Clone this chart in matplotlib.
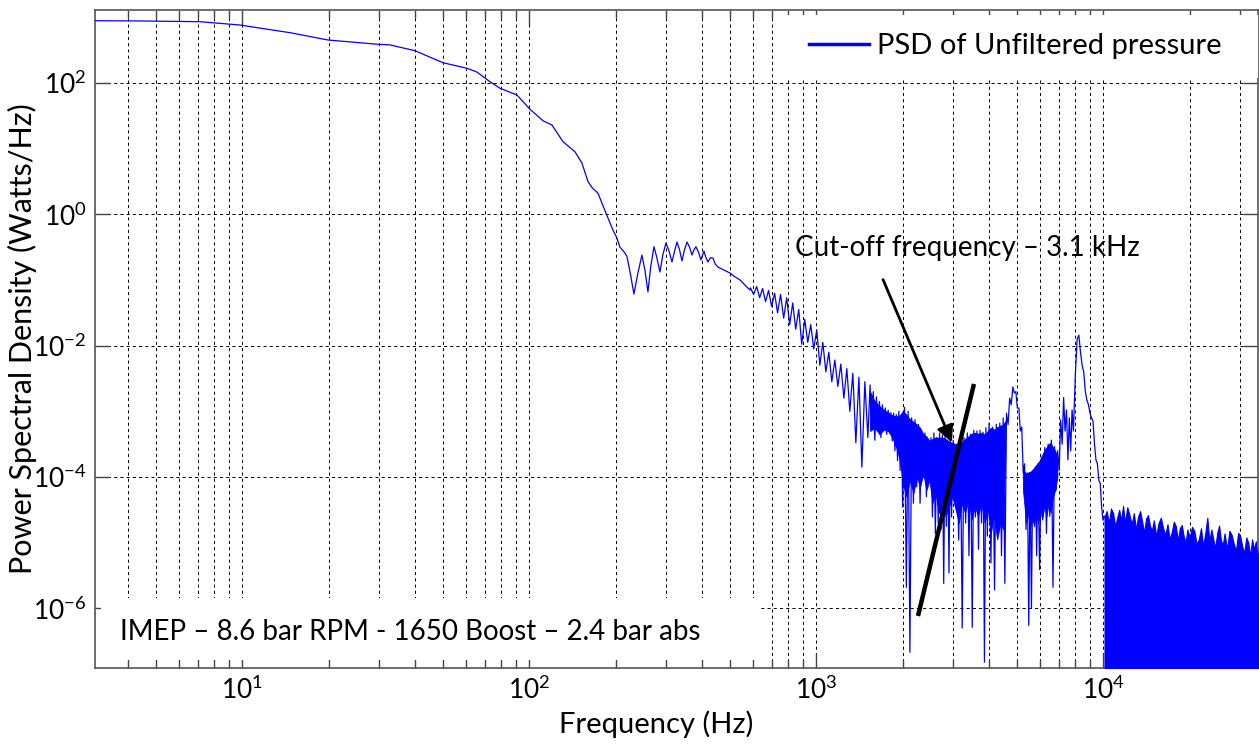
import numpy as np
import matplotlib.pyplot as plt
from matplotlib.lines import Line2D
from matplotlib.patches import Rectangle
from matplotlib.ticker import FixedLocator, LogLocator, NullLocator, NullFormatter

plt.rcParams['font.family'] = ['Lato', 'DejaVu Sans']
plt.rcParams['axes.unicode_minus'] = False

# --- data (frequency in Hz, PSD as log10 of Watts/Hz) ---
smooth_f = [3.07, 4.4, 7.1, 9.8, 14.7, 19.9, 29.7, 32.7, 40.0, 50.0, 60.7, 65.7,
            73.0, 79.1, 90.6, 100.6, 111.6, 120.0, 131.1, 144.3, 152.6, 160.2,
            166.0, 173.5, 185.0, 195.7, 202.1, 207.0, 213.0, 219.0, 225.0, 231.6,
            239.0, 247.0, 253.0, 259.2, 265.0, 272.0, 278.0, 285.4, 292.0, 299.5,
            307.0, 314.3, 321.0, 327.2, 334.0, 340.5, 347.0, 354.5, 362.0, 368.9,
            375.0, 380.9, 389.0, 396.5, 406.2, 412.0, 419.4, 428.0, 436.6, 445.0,
            454.5, 477.0, 500.5, 520.0, 542.3, 565.0, 587.5]
smooth_v = [2.948, 2.944, 2.933, 2.883, 2.765, 2.654, 2.589, 2.580, 2.491, 2.309,
            2.223, 2.167, 2.019, 1.919, 1.817, 1.600, 1.425, 1.360, 1.106, 0.953,
            0.781, 0.500, 0.400, 0.324, 0.020, -0.239, -0.361, -0.500, -0.560,
            -0.640, -0.900, -1.214, -0.900, -0.620, -0.850, -1.183, -0.800, -0.493,
            -0.650, -0.879, -0.620, -0.437, -0.560, -0.726, -0.560, -0.422, -0.540,
            -0.711, -0.550, -0.422, -0.500, -0.620, -0.540, -0.493, -0.580, -0.696,
            -0.559, -0.650, -0.726, -0.660, -0.666, -0.760, -0.803, -0.850, -0.894,
            -0.950, -1.000, -1.080, -1.153]

comb_f = [590, 605, 620, 635, 650, 666, 682, 699, 716, 733, 751, 770, 789, 808,
          828, 848, 869, 890, 912, 934, 957, 980, 1004, 1029, 1054, 1080, 1106,
          1133, 1161, 1189, 1218, 1248, 1278, 1309, 1341, 1374, 1408, 1442, 1477,
          1513]
comb_v = [-1.12, -1.22, -1.10, -1.27, -1.13, -1.33, -1.16, -1.40, -1.20, -1.50,
          -1.22, -1.58, -1.27, -1.68, -1.35, -1.75, -1.45, -1.98, -1.60, -1.95,
          -1.68, -2.05, -1.76, -2.30, -1.95, -2.40, -2.10, -2.55, -2.22, -2.62,
          -2.28, -2.80, -2.35, -3.00, -2.42, -3.48, -2.48, -3.85, -2.55, -3.40]

dense_f = [1540, 1560, 1580, 1600, 1620, 1640, 1660, 1680, 1700, 1720, 1740, 1760,
           1780, 1800, 1820, 1840, 1860, 1880, 1900, 1920, 1940, 1960, 1980,
           2000, 2030, 2060, 2090, 2120, 2150, 2180, 2210, 2240, 2270, 2300, 2330,
           2360, 2390, 2420, 2450, 2480, 2510, 2540, 2570, 2600, 2630, 2660, 2690,
           2720, 2750, 2780, 2810, 2840, 2870, 2900, 2930, 2960,
           3000, 3045, 3090, 3135, 3180, 3225, 3270, 3315, 3360, 3405, 3450, 3495,
           3540, 3585, 3630, 3675, 3720, 3765, 3810, 3855, 3900, 3945,
           4000, 4060, 4120, 4180, 4240, 4300, 4360, 4420, 4480, 4540, 4600, 4660,
           4720, 4780, 4840, 4900, 4960, 5020, 5080, 5140, 5200, 5260, 5320, 5380,
           5440, 5500, 5560, 5620, 5680, 5740, 5800, 5860, 5920,
           6000, 6085, 6170, 6255, 6340, 6425, 6510, 6595, 6680, 6765, 6850, 6935,
           7020, 7105, 7190, 7275, 7360, 7445, 7530, 7615, 7700, 7785, 7870,
           8000, 8110, 8220, 8330, 8440, 8550, 8660, 8770, 8880, 8990, 9100, 9210,
           9320, 9430, 9540, 9650, 9760, 9870, 9980]
dense_v = [-2.60, -3.20, -2.70, -3.44, -2.78, -3.10, -2.85, -3.40, -2.90, -3.25,
           -2.95, -3.35, -2.98, -3.29, -3.02, -3.45, -3.03, -3.60, -3.05, -3.75,
           -3.00, -3.90, -3.05,
           -4.46, -2.94, -5.68, -3.00, -6.67, -3.10, -4.40, -3.13, -4.15, -3.20,
           -4.40, -3.30, -3.95, -3.33, -4.30, -3.45, -4.05, -3.40, -4.61, -3.33,
           -4.86, -3.40, -4.70, -3.33, -4.80, -3.36, -5.62, -3.38, -4.75, -3.44,
           -5.46, -3.40, -4.61,
           -3.44, -4.40, -3.50, -4.96, -3.44, -6.30, -3.40, -4.70, -3.33, -5.20,
           -3.35, -6.29, -3.29, -4.61, -3.30, -5.10, -3.29, -4.70, -3.32, -6.82,
           -3.25, -4.90,
           -3.18, -5.31, -3.24, -5.72, -3.20, -4.80, -3.18, -5.20, -3.10, -5.62,
           -3.03, -3.20, -2.80, -2.90, -2.63, -2.72, -2.70, -2.95, -2.95, -3.30,
           -3.24, -3.94, -3.80, -4.80, -3.94, -6.26, -3.94, -6.00, -3.90, -4.70,
           -3.85, -5.20, -3.80,
           -5.41, -3.70, -4.60, -3.55, -4.86, -3.50, -4.60, -3.44, -5.68, -3.54,
           -4.20, -3.60, -3.90, -3.13, -3.50, -2.79, -3.30, -2.98, -3.74, -3.10,
           -3.60, -2.98, -3.30,
           -2.40, -1.90, -1.84, -2.10, -2.30, -2.40, -2.70, -2.83, -2.90, -3.03,
           -3.10, -3.15, -3.50, -3.74, -3.80, -4.05, -4.10, -4.46, -4.66]

# solid core of the noisy band
band_f = [1540, 1600, 1660, 1720, 1780, 1840, 1900, 1960, 2000, 2060, 2120, 2180,
          2240, 2300, 2360, 2420, 2480, 2540, 2600, 2680, 2750, 2820, 2900, 2980,
          3060, 3140, 3220, 3300, 3390, 3480, 3570, 3660, 3760, 3860, 3960, 4060,
          4160, 4270, 4380, 4480, 4560]
band_hi = [-2.70, -2.85, -2.92, -2.98, -3.02, -3.06, -3.08, -3.06, -3.00, -3.05,
           -3.12, -3.16, -3.20, -3.25, -3.35, -3.38, -3.45, -3.42, -3.40, -3.40,
           -3.40, -3.42, -3.46, -3.48, -3.50, -3.48, -3.46, -3.42, -3.38, -3.34,
           -3.33, -3.34, -3.33, -3.35, -3.30, -3.25, -3.28, -3.24, -3.22, -3.20,
           -3.15]
band_lo = [-3.30, -3.25, -3.35, -3.28, -3.30, -3.40, -3.55, -3.75, -4.10, -4.30,
           -4.05, -4.25, -4.00, -4.15, -3.95, -4.20, -4.05, -4.40, -4.25, -4.55,
           -4.35, -4.60, -4.45, -4.30, -4.50, -4.70, -4.40, -4.55, -4.35, -4.65,
           -4.45, -4.60, -4.40, -4.70, -4.50, -4.85, -4.60, -4.95, -4.70, -4.80,
           -3.60]

band2_f = [5250, 5320, 5400, 5480, 5560, 5650, 5740, 5830, 5930, 6030, 6130, 6230,
           6340, 6450, 6560, 6680, 6800, 6920]
band2_hi = [-3.90, -3.92, -3.95, -3.93, -3.92, -3.90, -3.86, -3.82, -3.78, -3.74,
            -3.66, -3.60, -3.55, -3.50, -3.48, -3.55, -3.60, -3.70]
band2_lo = [-4.20, -4.45, -4.70, -4.55, -4.80, -4.60, -4.75, -4.55, -4.70, -4.50,
            -4.65, -4.45, -4.60, -4.40, -4.55, -4.30, -4.20, -4.00]

floor_f = [10100, 10280, 10460, 10640, 10820, 11000, 11180, 11360, 11540, 11720,
           11900, 12120, 12340, 12560, 12780, 13000, 13220, 13440, 13660, 13880,
           14100, 14320, 14540, 14760, 15000, 15290, 15580, 15870, 16160, 16450,
           16740, 17030, 17320, 17610, 17900, 18190, 18480, 18770, 19060, 19350,
           19640, 20000, 20380, 20760, 21140, 21520, 21900, 22280, 22660, 23040,
           23420, 23800, 24180, 24560, 24940, 25320, 25700, 26080, 26460, 27000,
           27500, 28000, 28500, 29000, 29500, 30000, 30500, 31000, 31500, 32000,
           32500, 33000, 33500, 34000, 34500, 35000]
floor_top = [-4.60, -4.52, -4.70, -4.48, -4.55, -4.75, -4.62, -4.50, -4.66, -4.44,
             -4.70, -4.46, -4.58, -4.72, -4.55, -4.80, -4.60, -4.52, -4.68, -4.85,
             -4.63, -4.58, -4.74, -4.82, -4.66, -4.90, -4.70, -4.62, -4.78, -4.88,
             -4.72, -4.95, -4.84, -4.68, -4.75, -4.97, -4.78, -4.73, -4.90, -5.00,
             -4.80, -4.92, -4.76, -4.82, -5.02, -4.95, -4.78, -5.05, -4.86, -4.62,
             -4.98, -4.80, -4.95, -5.08, -4.85, -4.74, -4.96, -5.04, -4.86, -5.10,
             -4.82, -4.88, -5.02, -5.12, -4.85, -4.90, -5.06, -5.15, -4.92, -5.00,
             -5.20, -4.95, -5.10, -4.98, -5.25, -5.05]
floor_bottom = -7.5

# annotation geometry (data units)
arrow_start = (1694, 10 ** -0.955)
arrow_tip = (2995, 10 ** -3.513)
cut_line_f = [2262, 3544]
cut_line_v = [-6.117, -2.584]

blue = '#0000ff'
p = lambda v: 10 ** np.asarray(v, dtype=float)

fig = plt.figure(figsize=(12.59, 7.47), dpi=100)
ax = fig.add_axes([95 / 1259, 1 - 668 / 747, 1163 / 1259, 658 / 747])

trace_f = smooth_f + comb_f + dense_f + floor_f[:1]
trace_v = smooth_v + comb_v + dense_v + floor_top[:1]
ax.plot(trace_f, p(trace_v), color=blue, lw=0.9, zorder=4)
ax.fill_between(band_f, p(band_lo), p(band_hi), color=blue, lw=0.6, zorder=4)
ax.fill_between(band2_f, p(band2_lo), p(band2_hi), color=blue, lw=0.6, zorder=4)
ax.fill_between(floor_f, p([floor_bottom] * len(floor_f)), p(floor_top),
                color=blue, lw=0.8, zorder=4)

ax.set_xscale('log')
ax.set_yscale('log')
ax.set_xlim(3.07, 34600)
ax.set_ylim(10 ** -6.909, 10 ** 3.111)

ax.yaxis.set_major_locator(FixedLocator([1e-6, 1e-4, 1e-2, 1e0, 1e2]))
ax.yaxis.set_minor_locator(NullLocator())
ax.xaxis.set_major_locator(FixedLocator([1e1, 1e2, 1e3, 1e4]))
ax.xaxis.set_minor_locator(LogLocator(base=10, subs=range(2, 10), numticks=20))
ax.xaxis.set_minor_formatter(NullFormatter())

grid_kw = dict(color='black', lw=0.7, linestyle=(0, (3.2, 3.2)))
ax.grid(True, which='both', axis='x', **grid_kw)
ax.grid(True, which='major', axis='y', **grid_kw)

ax.tick_params(which='both', direction='in', top=True, right=True,
               width=1, color='#444444', labelsize=19, pad=6)
ax.tick_params(which='major', length=10.8)
ax.tick_params(which='minor', length=5.8)
for s in ax.spines.values():
    s.set_color('#555555')
    s.set_linewidth(1.2)

ax.set_xlabel('Frequency (Hz)', fontsize=21)
ax.xaxis.set_label_coords((656 - 95) / 1163, -0.064)
ax.set_ylabel('Power Spectral Density (Watts/Hz)', fontsize=22, labelpad=-3)

# white boxes behind legend and condition text
ax.add_patch(Rectangle((0.005, 0.012), 0.567, 0.094, transform=ax.transAxes,
                       facecolor='white', edgecolor='none', zorder=3))
ax.add_patch(Rectangle((0.59, 0.897), 0.41, 0.096, transform=ax.transAxes,
                       facecolor='white', edgecolor='none', zorder=3))
ax.text(0.0215, 0.0547, 'IMEP – 8.6 bar RPM - 1650 Boost – 2.4 bar abs',
        transform=ax.transAxes, fontsize=20, va='center', ha='left', zorder=5)

ax.text(843, 10 ** -0.513, 'Cut-off frequency – 3.1 kHz', fontsize=20,
        va='center', ha='left', zorder=5)
ax.annotate('', xy=arrow_tip, xytext=arrow_start,
            arrowprops=dict(arrowstyle='-|>', color='black', lw=2,
                            mutation_scale=25), zorder=6)
ax.plot(cut_line_f, p(cut_line_v), color='black', lw=3.2, solid_capstyle='butt',
        zorder=6)

handle = Line2D([], [], color=blue, lw=2.5)
leg = ax.legend([handle], ['PSD of Unfiltered pressure'], loc='center right',
                bbox_to_anchor=((1222 - 95) / 1163, (668 - 46) / 658),
                borderaxespad=0, borderpad=0, fontsize=21, frameon=False,
                handlelength=2.05, handletextpad=0.3)
leg.set_zorder(7)

fig.savefig('out.png', dpi=100)
